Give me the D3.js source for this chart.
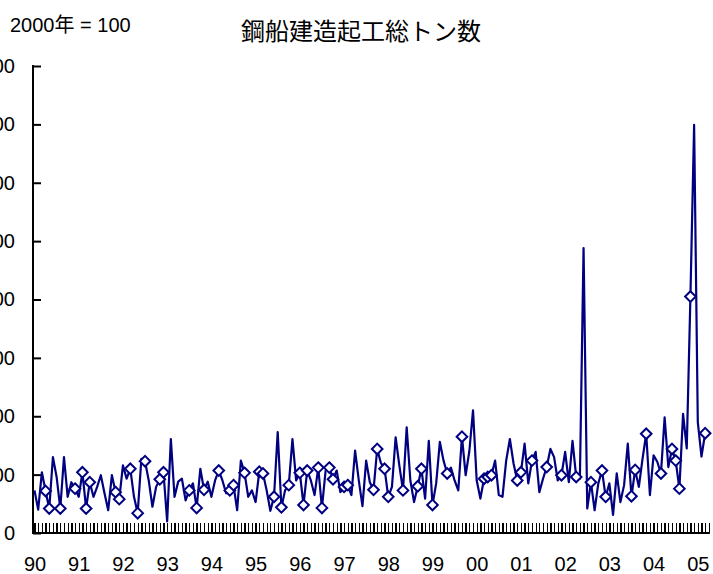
<!DOCTYPE html>
<html>
<head>
<meta charset="utf-8">
<script src="https://cdn.jsdelivr.net/npm/d3@7/dist/d3.min.js"></script>
<style>
  html, body { margin: 0; padding: 0; background: #fff; }
  svg { display: block; }
  text { font-family: "Liberation Sans", Arial, "Noto Sans CJK JP", sans-serif; fill: #000; }
</style>
</head>
<body>
<script>
// ---- data (monthly index, 2000 = 100), Jan 1990 .. Mar 2005 ----
const title = "鋼船建造起工総トン数";
const unitLabel = "2000年 = 100";
const yearLabels = ["90","91","92","93","94","95","96","97","98","99","00","01","02","03","04","05"];
const yTicks = [0,100,200,300,400,500,600,700,800];

const v1990_1993 = [
  73, 40, 104, 72, 42, 130, 96, 42, 130, 62, 87, 76,
  62, 104, 42, 87, 62, 79, 99, 68, 39, 99, 70, 58,
  116, 93, 110, 62, 34, 127, 123, 90, 45, 79, 92, 104,
  20, 161, 62, 88, 93, 56, 73, 85, 43, 110, 74, 88
];
const v1994_1997 = [
  62, 90, 107, 90, 68, 73, 82, 39, 124, 103, 62, 73,
  53, 105, 102, 73, 38, 62, 173, 44, 73, 82, 161, 90,
  103, 48, 107, 90, 65, 112, 43, 107, 112, 92, 107, 70,
  79, 82, 65, 141, 90, 46, 124, 87, 74, 144, 120, 110
];
const v1998_2001 = [
  62, 79, 164, 116, 73, 181, 90, 53, 80, 110, 59, 158,
  48, 85, 156, 124, 102, 112, 90, 73, 165, 99, 140, 210,
  90, 59, 93, 96, 99, 124, 65, 62, 124, 161, 119, 90,
  104, 153, 85, 124, 139, 70, 93, 113, 144, 130, 90, 99
];
const v2002_2005 = [
  139, 87, 158, 96, 93, 488, 42, 87, 39, 85, 107, 62,
  85, 31, 102, 53, 82, 153, 63, 108, 79, 127, 170, 65,
  133, 122, 102, 198, 113, 144, 124, 76, 204, 145, 405, 699,
  190, 131, 171
];
const values = [].concat(v1990_1993, v1994_1997, v1998_2001, v2002_2005);

// months (index into values) drawn with a diamond marker
const markedMonths = [3,4,7,11,13,14,15,22,23,26,28,30,34,35,42,44,46,50,53,54,57,61,62,65,67,69,
  72,73,74,77,78,80,81,84,85,92,93,95,96,100,104,105,108,112,116,122,123,124,131,132,135,139,
  143,147,151,154,155,162,163,166,170,173,174,175,178,182];

// ---- layout ----
const W = 713, H = 574;
const x0 = 34.5, monthW = 3.685;
const nMonths = 192;
const yTop = 66, yBottom = 533, axisX = 33;
const navy = "#000080";
const fontSize = "20px";

const svg = d3.select("body").append("svg").attr("width", W).attr("height", H);

const x = d3.scaleLinear().domain([0, nMonths]).range([x0, x0 + monthW * nMonths]);
const y = d3.scaleLinear().domain([0, 800]).range([yBottom, yTop]);

// title + unit
svg.append("text").attr("x", 361).attr("y", 40).attr("text-anchor", "middle")
  .style("font-family", "'Noto Sans CJK JP', sans-serif").style("font-size", "24px").text(title);
svg.append("text").attr("x", 10).attr("y", 32).style("font-size", fontSize).text(unitLabel);

// y axis
const yAxis = d3.axisLeft(y).tickValues(yTicks).tickSize(-8).tickPadding(18).tickFormat(d3.format("d"));
const gy = svg.append("g").attr("transform", `translate(${axisX},0)`).call(yAxis);
gy.select(".domain").remove();
gy.selectAll(".tick line").attr("stroke", "#000").attr("stroke-width", 2);
gy.selectAll("text").style("font-size", fontSize).style("font-family", "'Liberation Sans', Arial, sans-serif");
svg.append("line").attr("x1", axisX).attr("x2", axisX).attr("y1", yTop - 1).attr("y2", yBottom + 1)
  .attr("stroke", "#000").attr("stroke-width", 2);

// x axis: monthly ticks inside
const monthTicks = d3.range(0, values.length + 1);
const xAxis = d3.axisBottom(x).tickValues(monthTicks).tickSize(-10).tickFormat("");
const gx = svg.append("g").attr("transform", `translate(0,${yBottom})`).call(xAxis);
gx.select(".domain").remove();
gx.selectAll(".tick line").attr("stroke", "#000").attr("stroke-width", 1.3).attr("shape-rendering", "crispEdges");
svg.append("line").attr("x1", axisX).attr("x2", x(values.length) + 1).attr("y1", yBottom).attr("y2", yBottom)
  .attr("stroke", "#000").attr("stroke-width", 2);

// year labels
const xLab = d3.axisBottom(x).tickValues(yearLabels.map((d, i) => i * 12)).tickSize(0).tickPadding(24)
  .tickFormat((d, i) => yearLabels[i]);
const gl = svg.append("g").attr("transform", `translate(0,${yBottom})`).call(xLab);
gl.select(".domain").remove();
gl.selectAll("text").style("font-size", fontSize).style("font-family", "'Liberation Sans', Arial, sans-serif");

// line
const line = d3.line().x((d, i) => x(i)).y(d => y(d));
svg.append("path").datum(values).attr("d", line).attr("fill", "none")
  .attr("stroke", navy).attr("stroke-width", 2.2).attr("stroke-linejoin", "round");

// diamond markers
const sym = d3.symbol().type(d3.symbolDiamond2).size(72);
svg.append("g").selectAll("path").data(markedMonths).join("path")
  .attr("d", sym)
  .attr("transform", i => `translate(${x(i)},${y(values[i])})`)
  .attr("fill", "#fff").attr("stroke", navy).attr("stroke-width", 2);
</script>
</body>
</html>
